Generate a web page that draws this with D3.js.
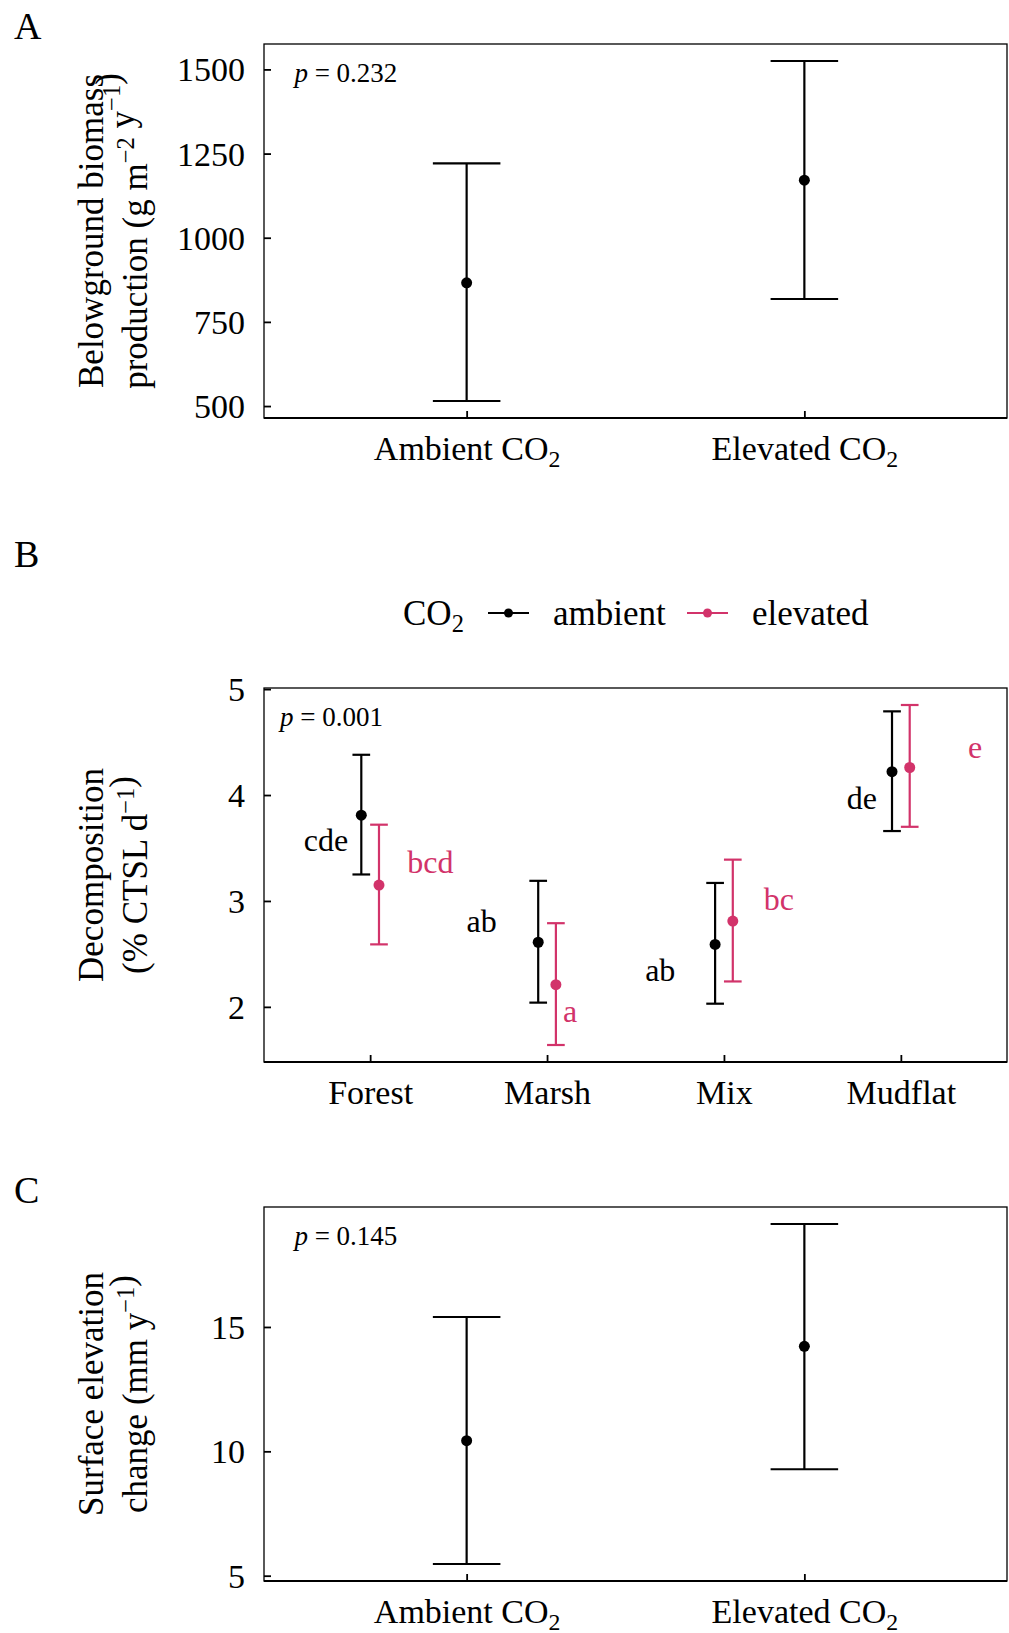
<!DOCTYPE html>
<html>
<head>
<meta charset="utf-8">
<script src="https://cdn.jsdelivr.net/npm/d3@7"></script>
<style>
body { margin: 0; background: #fff; }
text { font-family: "Liberation Serif", "Times New Roman", serif; fill: #000; }
</style>
</head>
<body>
<div id="fig"></div>
<script>
// A: belowground biomass production
var co2Levels = ["Ambient", "Elevated"];
var biomassMean = [866, 1171];
var biomassLow = [515, 818];
var biomassHigh = [1221, 1525];
var biomassTicks = [500, 750, 1000, 1250, 1500];

// B: decomposition by habitat
var habitats = ["Forest", "Marsh", "Mix", "Mudflat"];
var decompAmbMean = [3.81, 2.61, 2.59, 4.22];
var decompAmbLow = [3.25, 2.04, 2.03, 3.66];
var decompAmbHigh = [4.38, 3.19, 3.17, 4.79];
var decompElevMean = [3.15, 2.21, 2.81, 4.26];
var decompElevLow = [2.59, 1.64, 2.24, 3.70];
var decompElevHigh = [3.72, 2.79, 3.39, 4.85];
var decompTicks = [2, 3, 4, 5];
var ambLetters = ["cde", "ab", "ab", "de"];
var ambLetterX = [-0.25, -0.37, -0.36, -0.22];
var ambLetterY = [3.57, 2.81, 2.35, 3.97];
var elevLetters = ["bcd", "a", "bc", "e"];
var elevLetterX = [0.34, 0.13, 0.31, 0.42];
var elevLetterY = [3.37, 1.96, 3.02, 4.45];

// C: surface elevation change
var elevChangeMean = [10.43, 14.22];
var elevChangeLow = [5.47, 9.28];
var elevChangeHigh = [15.40, 19.14];
var elevChangeTicks = [5, 10, 15];

var pValues = ["0.232", "0.001", "0.145"];

var W = 1009, H = 1633;
var left = 264, right = 1007;
var red = "#d2336a";

var svg = d3.select("#fig").append("svg")
    .attr("width", W)
    .attr("height", H);

function expand(lo, hi){
    var r = hi - lo;
    return [lo - 0.05 * r, hi + 0.05 * r];
}

function co2Text(sel, name){
    sel.append("tspan").text(name + " CO");
    sel.append("tspan").attr("font-size", "0.7em").attr("dy", "0.28em").text("2");
}

// frame, axes, titles, p label; returns scales
function panel(opt){
    var g = svg.append("g");
    var top = opt.top, bottom = opt.top + 374;

    var x = d3.scalePoint().domain(opt.cats).range([left, right]).padding(0.6);
    var y = d3.scaleLinear().domain(expand(d3.min(opt.lows), d3.max(opt.highs))).range([bottom, top]);

    g.append("rect")
    .attr("x", left)
    .attr("y", top)
    .attr("width", right - left)
    .attr("height", bottom - top)
    .attr("fill", "none")
    .attr("stroke", "#000")
    .attr("stroke-width", 1.3);

    var yAxis = d3.axisLeft(y)
        .tickValues(opt.ticks)
        .tickFormat(d3.format("d"))
        .tickSizeInner(-7).tickSizeOuter(0).tickPadding(19);
    var ya = g.append("g").attr("transform", "translate(" + left + ",0)").call(yAxis);
    ya.select(".domain").remove();
    ya.selectAll(".tick line").attr("stroke-width", 1.8);
    ya.selectAll(".tick text")
    .attr("font-size", 34)
    .attr("font-family", "Liberation Serif, serif")
    .attr("dy", "0.34em");

    var xAxis = d3.axisBottom(x).tickSizeInner(-7).tickSizeOuter(0).tickPadding(18);
    var xa = g.append("g").attr("transform", "translate(0," + bottom + ")").call(xAxis);
    xa.select(".domain").remove();
    xa.selectAll(".tick line").attr("stroke-width", 1.8);
    xa.selectAll(".tick text")
    .attr("font-size", 34)
    .attr("font-family", "Liberation Serif, serif")
    .each(function(d){
        if(opt.co2){
            var t = d3.select(this).text(null);
            co2Text(t, d);
        }
    });

    g.append("line")
    .attr("x1", left).attr("x2", right)
    .attr("y1", bottom).attr("y2", bottom)
    .attr("stroke", "#000")
    .attr("stroke-width", 2.2);

    // panel letter
    g.append("text")
    .attr("x", 14)
    .attr("y", opt.letterY)
    .attr("font-size", 38)
    .text(opt.letter);

    // y title, two lines
    opt.title.forEach(function(line, i){
        var t = g.append("text")
        .attr("transform", "translate(" + (103 + i * 44) + "," + ((top + bottom) / 2) + ") rotate(-90)")
        .attr("text-anchor", "middle")
        .attr("font-size", 35);
        line(t);
    });

    var p = g.append("text")
    .attr("x", x(opt.cats[0]) - 0.51 * x.step())
    .attr("y", top + 38)
    .attr("font-size", 27);
    p.append("tspan").attr("font-style", "italic").text("p");
    p.append("tspan").text(" = " + opt.p);

    return {g: g, x: x, y: y};
}

function errorBars(g, xs, y, means, lows, highs, color, capHalf, r){
    var bars = g.append("g");
    means.forEach(function(m, i){
        bars.append("line")
        .attr("x1", xs[i]).attr("x2", xs[i])
        .attr("y1", y(lows[i])).attr("y2", y(highs[i]))
        .attr("stroke", color).attr("stroke-width", 2.2);
        [lows[i], highs[i]].forEach(function(v){
            bars.append("line")
            .attr("x1", xs[i] - capHalf).attr("x2", xs[i] + capHalf)
            .attr("y1", y(v)).attr("y2", y(v))
            .attr("stroke", color).attr("stroke-width", 2.2);
        });
        bars.append("circle")
        .attr("cx", xs[i]).attr("cy", y(m))
        .attr("r", r)
        .attr("fill", color);
    });
}

function supText(sel, parts){
    // parts: [text, isSup]
    parts.forEach(function(p){
        if(p[1]){
            sel.append("tspan").attr("font-size", "0.7em").attr("dy", "-0.55em").text(p[0]);
            sel.append("tspan").attr("dy", "0.385em").text("");
        } else {
            sel.append("tspan").text(p[0]);
        }
    });
}

// ---- A ----
var pa = panel({
    top: 44, cats: co2Levels, lows: biomassLow, highs: biomassHigh, ticks: biomassTicks,
    co2: true, letter: "A", letterY: 39, p: pValues[0],
    title: [
        function(t){ t.text("Belowground biomass"); },
        function(t){ supText(t, [["production (g m", 0], ["\u22122", 1], [" y", 0], ["\u22121", 1], [")", 0]]); }
    ]
});
errorBars(pa.g, co2Levels.map(function(c){ return pa.x(c); }), pa.y,
    biomassMean, biomassLow, biomassHigh, "#000", 0.1 * pa.x.step(), 5.5);

// ---- B ----
var pb = panel({
    top: 688, cats: habitats,
    lows: decompAmbLow.concat(decompElevLow), highs: decompAmbHigh.concat(decompElevHigh),
    ticks: decompTicks, co2: false, letter: "B", letterY: 567, p: pValues[1],
    title: [
        function(t){ t.text("Decomposition"); },
        function(t){ supText(t, [["(% CTSL d", 0], ["\u22121", 1], [")", 0]]); }
    ]
});
var stepB = pb.x.step();
errorBars(pb.g, habitats.map(function(h){ return pb.x(h) - 0.05 * stepB; }), pb.y,
    decompAmbMean, decompAmbLow, decompAmbHigh, "#000", 0.05 * stepB, 5.5);
errorBars(pb.g, habitats.map(function(h){ return pb.x(h) + 0.05 * stepB; }), pb.y,
    decompElevMean, decompElevLow, decompElevHigh, red, 0.05 * stepB, 5.5);

habitats.forEach(function(h, i){
    pb.g.append("text")
    .attr("x", pb.x(h) + ambLetterX[i] * stepB)
    .attr("y", pb.y(ambLetterY[i]))
    .attr("dy", "0.34em")
    .attr("text-anchor", "middle")
    .attr("font-size", 32)
    .text(ambLetters[i]);
    pb.g.append("text")
    .attr("x", pb.x(h) + elevLetterX[i] * stepB)
    .attr("y", pb.y(elevLetterY[i]))
    .attr("dy", "0.34em")
    .attr("text-anchor", "middle")
    .attr("font-size", 32)
    .style("fill", red)
    .text(elevLetters[i]);
});

// legend
var leg = svg.append("g");
var lt = leg.append("text").attr("x", 403).attr("y", 625).attr("font-size", 35);
lt.append("tspan").text("CO");
lt.append("tspan").attr("font-size", "0.7em").attr("dy", "0.3em").text("2");
var keys = [{name: "ambient", color: "#000", x: 488, tx: 553}, {name: "elevated", color: red, x: 687, tx: 752}];
keys.forEach(function(k){
    leg.append("line")
    .attr("x1", k.x).attr("x2", k.x + 41)
    .attr("y1", 613).attr("y2", 613)
    .attr("stroke", k.color).attr("stroke-width", 2.2);
    leg.append("circle")
    .attr("cx", k.x + 20.5).attr("cy", 613)
    .attr("r", 4.5)
    .attr("fill", k.color);
    leg.append("text")
    .attr("x", k.tx).attr("y", 625)
    .attr("font-size", 35)
    .text(k.name);
});

// ---- C ----
var pc = panel({
    top: 1207, cats: co2Levels, lows: elevChangeLow, highs: elevChangeHigh, ticks: elevChangeTicks,
    co2: true, letter: "C", letterY: 1203, p: pValues[2],
    title: [
        function(t){ t.text("Surface elevation"); },
        function(t){ supText(t, [["change (mm y", 0], ["\u22121", 1], [")", 0]]); }
    ]
});
errorBars(pc.g, co2Levels.map(function(c){ return pc.x(c); }), pc.y,
    elevChangeMean, elevChangeLow, elevChangeHigh, "#000", 0.1 * pc.x.step(), 5.5);
</script>
</body>
</html>
